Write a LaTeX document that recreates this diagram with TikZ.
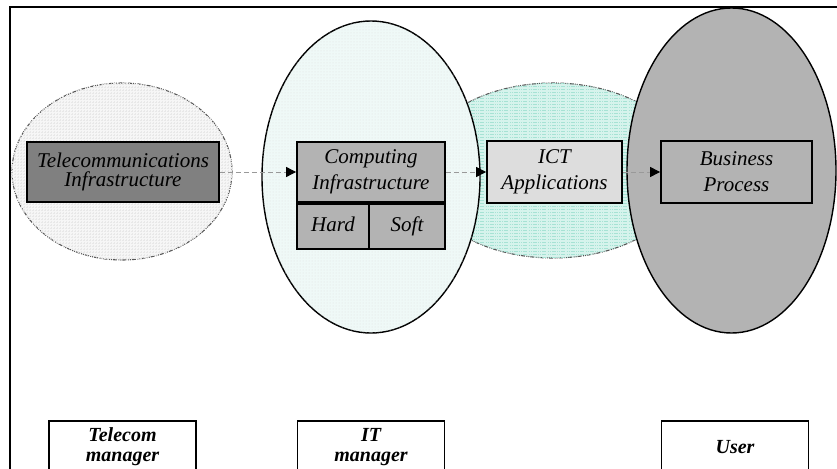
\documentclass[tikz,border=0pt]{standalone}
\usepackage{fontspec}
\setmainfont{Liberation Serif}
\usepackage{xcolor}
\definecolor{darkbox}{HTML}{808080}
\definecolor{midbox}{HTML}{B3B3B3}
\definecolor{lightbox}{HTML}{DDDDDD}
\definecolor{gridfill}{HTML}{F6F6F6}
\definecolor{dotfill}{HTML}{EFF9F7}
\definecolor{linefill}{HTML}{D6F3EC}
\definecolor{lineaqua}{HTML}{A6E2D4}
\usepackage{tikz}
\usetikzlibrary{positioning,arrows.meta,shapes.geometric,patterns}

\begin{document}
\begin{tikzpicture}[x=1pt, y=-1pt,
  zone/.style={ellipse, inner sep=0pt},
  softzone/.style={zone, draw=black!65, line width=1.1pt, dash pattern=on 1pt off 1pt on 1pt off 1pt on 4pt off 1.5pt},
  hardzone/.style={zone, draw=black, line width=1.4pt},
  layer/.style={draw=black, line width=1.8pt, inner sep=0pt, align=center, font=\fontsize{21}{26}\selectfont\itshape},
  cell/.style={layer, fill=midbox, minimum height=45pt, text height=14pt, text depth=4pt},
  role/.style={draw=black, line width=1.8pt, fill=white, minimum width=147pt, minimum height=52pt, inner sep=0pt, align=center, font=\fontsize{20}{20}\selectfont\bfseries\itshape},
  flow/.style={draw=black!40, line width=0.9pt, dash pattern=on 5pt off 3pt, -{Triangle[length=10pt, width=10pt, color=black]}}]
  \useasboundingbox (0,0) rectangle (837,468);
  \clip (0,0) rectangle (837,468);

  % outer frame
  \draw[line width=2.3pt] (10,475) -- (10,7) -- (845,7);

  % areas of responsibility
  \node[softzone, fill=linefill, postaction={pattern=horizontal lines, pattern color=lineaqua}, minimum width=270pt, minimum height=175pt] (appzone) at (553,170.5) {};
  \node[hardzone, fill=dotfill, postaction={pattern=dots, pattern color=black!12}, minimum width=218pt, minimum height=312pt] (itzone) at (371,177) {};
  \node[hardzone, fill=midbox, minimum width=209pt, minimum height=325pt] (userzone) at (731.5,170.5) {};
  \node[softzone, fill=gridfill, postaction={pattern=grid, pattern color=black!9}, minimum width=220pt, minimum height=177pt] (telecomzone) at (122,171.5) {};

  % layers
  \node[layer, fill=darkbox, minimum width=192pt, minimum height=60pt, font=\fontsize{21}{19}\selectfont\itshape] (tele) at (123,172) {Telecommunications\\Infrastructure};
  \node[layer, fill=midbox, minimum width=148pt, minimum height=60pt] (comp) at (371,172) {Computing\\Infrastructure};
  \node[cell, minimum width=72pt, anchor=north west] (hard) at (comp.south west) {Hard};
  \node[cell, minimum width=76pt, anchor=north east] (soft) at (comp.south east) {Soft};
  \node[layer, fill=lightbox, minimum width=135pt, minimum height=62pt] (ict) at (554.5,172) {ICT\\Applications};
  \node[layer, fill=midbox, minimum width=151pt, minimum height=62pt] (bus) at (736.5,172) {Business\\Process};

  \draw[flow] (tele.east) -- (comp.west);
  \draw[flow] (comp.east) -- (ict.west);
  \draw[flow] (ict.east) -- (bus.west);

  % who is in charge
  \node[role] (telecomrole) at (122.5,447) {Telecom\\manager};
  \node[role] (itrole) at (371,447) {IT\\manager};
  \node[role] (userrole) at (735,447) {User};
\end{tikzpicture}
\end{document}
